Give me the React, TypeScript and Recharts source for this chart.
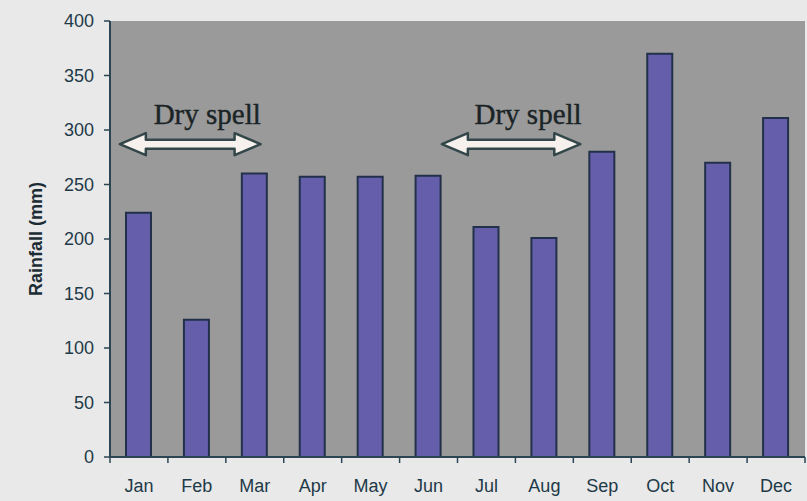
import React from "react";
import {
  BarChart,
  Bar,
  XAxis,
  YAxis,
  CartesianGrid,
  ReferenceLine,
} from "recharts";

const months = ["Jan", "Feb", "Mar", "Apr", "May", "Jun", "Jul", "Aug", "Sep", "Oct", "Nov", "Dec"];
const rainfall = [224, 126, 260, 257, 257, 258, 211, 201, 280, 370, 270, 311];
const yTicks = [0, 50, 100, 150, 200, 250, 300, 350, 400];

// dry spell annotations, x in month units (0 = left edge of Jan)
const spellLabels = ["Dry spell", "Dry spell"];
const spellStart = [0.17, 5.73];
const spellEnd = [2.6, 8.12];
const spellLevel = [287, 287];

// pos = centre of each month slot on the helper numeric axis
const data = months.map((m, i) => ({ month: m, rain: rainfall[i], pos: i + 0.5 }));

const W = 807;
const H = 501;
const LEFT = 110;
const RIGHT = 2;
const BAND = (W - LEFT - RIGHT) / months.length;
const tickColor = "#1e3a48";
const axisColor = "#2b4652";

function MonthTick(props: any) {
  const { x, y, payload, index } = props;
  const axisY = y - 22;
  const left = x - BAND / 2;
  return (
    <g>
      <line x1={left} y1={axisY} x2={left} y2={axisY + 6} stroke={axisColor} strokeWidth={1.5} />
      {index === months.length - 1 && (
        <line x1={x + BAND / 2} y1={axisY} x2={x + BAND / 2} y2={axisY + 6} stroke={axisColor} strokeWidth={1.5} />
      )}
      <text x={x} y={y} dy="0.71em" textAnchor="middle" fill={tickColor} fontSize={18} fontFamily="Liberation Sans, Arial, sans-serif">
        {payload.value}
      </text>
    </g>
  );
}

function SpellArrow(label: string) {
  return (p: any) => {
    const { x1, y1, x2 } = p;
    const y = y1;
    const head = 26;
    const hh = 11;
    const sh = 4.5;
    const pts = [
      [x1, y],
      [x1 + head, y - hh],
      [x1 + head, y - sh],
      [x2 - head, y - sh],
      [x2 - head, y - hh],
      [x2, y],
      [x2 - head, y + hh],
      [x2 - head, y + sh],
      [x1 + head, y + sh],
      [x1 + head, y + hh],
    ]
      .map((q) => q.join(","))
      .join(" ");
    return (
      <g>
        <polygon points={pts} fill="#f6f1ec" stroke="#33474a" strokeWidth={2.5} strokeLinejoin="round" />
        <text
          x={(x1 + x2) / 2 + 17}
          y={y - 20}
          textAnchor="middle"
          fontSize={29}
          fontFamily="Liberation Serif, Times New Roman, serif"
          fill="#1a2426"
          stroke="#1a2426"
          strokeWidth={0.4}
        >
          {label}
        </text>
      </g>
    );
  };
}

export default function App() {
  return (
    <div style={{ position: "absolute", left: 0, top: 0, width: W, height: H, background: "#e9e9e9" }}>
      <BarChart
        width={W}
        height={H}
        data={data}
        margin={{ top: 21, right: RIGHT, bottom: 0, left: 0 }}
        barSize={25}
      >
        <CartesianGrid fill="#9a9a9a" stroke="none" horizontal={false} vertical={false} />
        <XAxis
          dataKey="month"
          height={44}
          tickLine={false}
          tickSize={0}
          tickMargin={22}
          axisLine={{ stroke: axisColor, strokeWidth: 2 }}
          tick={<MonthTick />}
          interval={0}
        />
        <XAxis
          xAxisId="num"
          dataKey="pos"
          type="number"
          domain={[0, months.length]}
          allowDataOverflow
          padding={{ left: 0, right: 0 }}
          hide
        />
        <YAxis
          width={LEFT}
          domain={[0, 400]}
          ticks={yTicks}
          interval={0}
          tickSize={6}
          tickMargin={10}
          tickLine={{ stroke: axisColor, strokeWidth: 1.5 }}
          axisLine={{ stroke: axisColor, strokeWidth: 2 }}
          tick={{ fill: tickColor, fontSize: 18, fontFamily: "Liberation Sans, Arial, sans-serif" }}
          label={{
            value: "Rainfall (mm)",
            angle: -90,
            position: "insideLeft",
            offset: 36,
            style: { textAnchor: "middle", fill: "#1c2c34", fontSize: 18, fontWeight: "bold", fontFamily: "Liberation Sans, Arial, sans-serif" },
          }}
        />
        <Bar dataKey="rain" fill="#655fab" stroke="#22304a" strokeWidth={2} isAnimationActive={false} />
        {spellLabels.map((lab, i) => (
          <ReferenceLine
            key={i}
            xAxisId="num"
            segment={[
              { x: spellStart[i], y: spellLevel[i] },
              { x: spellEnd[i], y: spellLevel[i] },
            ]}
            shape={SpellArrow(lab)}
          />
        ))}
      </BarChart>
    </div>
  );
}
